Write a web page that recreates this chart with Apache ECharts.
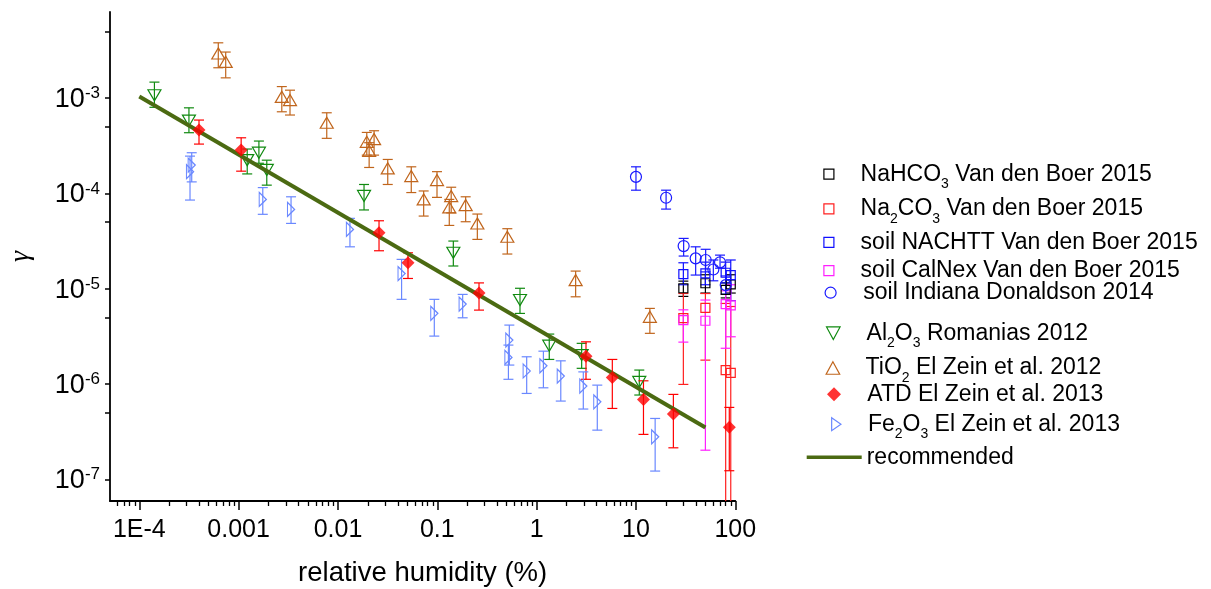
<!DOCTYPE html>
<html><head><meta charset="utf-8">
<script src="https://cdn.jsdelivr.net/npm/echarts@6/dist/echarts.min.js"></script>
<style>html,body{margin:0;padding:0;background:#fff}#c{width:1211px;height:589px}</style>
</head><body><div id="c"></div>
<script>
// ---------- data ----------
const xMajorTicks = [1e-4, 1e-3, 1e-2, 0.1, 1, 10, 100];
const xMajorLabels = ['1E-4', '0.001', '0.01', '0.1', '1', '10', '100'];
const xMinorTicks = [5e-5,6e-5,7e-5,8e-5,9e-5,2e-4,3e-4,4e-4,5e-4,6e-4,7e-4,8e-4,9e-4,2e-3,3e-3,4e-3,5e-3,6e-3,7e-3,8e-3,9e-3,
  0.02,0.03,0.04,0.05,0.06,0.07,0.08,0.09,0.2,0.3,0.4,0.5,0.6,0.7,0.8,0.9,2,3,4,5,6,7,8,9,20,30,40,50,60,70,80,90];
const yMajorTicks = [1e-7, 1e-6, 1e-5, 1e-4, 1e-3];
const yMinorTicks = [5e-7, 5e-6, 5e-5, 5e-4, 5e-3];

// NaHCO3 Van den Boer 2015
const nahco3X = [30, 50, 80, 90];
const nahco3Y = [1.01e-5, 1.14e-5, 9.7e-6, 1.11e-5];
const nahco3Hi = [1.2e-5, 1.4e-5, 1.15e-5, 1.4e-5];
const nahco3Lo = [8.3e-6, 9.0e-6, 8.0e-6, 9.0e-6];
// Na2CO3 Van den Boer 2015
const na2co3X = [30, 50, 80, 90];
const na2co3Y = [4.9e-6, 6.3e-6, 1.4e-6, 1.31e-6];
const na2co3Hi = [8.9e-6, 8.9e-6, 7.0e-6, 6.5e-6];
const na2co3Lo = [9.9e-7, 1.78e-6, 1e-8, 1e-8];
// soil NACHTT Van den Boer 2015
const nachttX = [30, 50, 80, 90];
const nachttY = [1.42e-5, 1.45e-5, 1.47e-5, 1.39e-5];
const nachttHi = [1.87e-5, 1.9e-5, 1.9e-5, 2.0e-5];
const nachttLo = [1.1e-5, 1.1e-5, 1.15e-5, 7.5e-6];
// soil CalNex Van den Boer 2015
const calnexX = [30, 50, 80, 90];
const calnexY = [4.69e-6, 4.61e-6, 6.89e-6, 6.68e-6];
const calnexHi = [6.0e-6, 7.6e-6, 9.5e-6, 1.1e-5];
const calnexLo = [2.75e-6, 2.02e-7, 2.37e-6, 3.13e-6];
// soil Indiana Donaldson 2014
const indianaX = [10.0, 20.1, 30.2, 39.9, 50.3, 60.1, 70.2, 80.1];
const indianaY = [1.49e-4, 9.0e-5, 2.80e-5, 2.08e-5, 2.0e-5, 1.59e-5, 1.89e-5, 1.09e-5];
const indianaHi = [1.90e-4, 1.08e-4, 3.37e-5, 2.75e-5, 2.59e-5, 2.0e-5, 2.25e-5, 1.36e-5];
const indianaLo = [1.08e-4, 6.84e-5, 2.20e-5, 1.39e-5, 1.50e-5, 1.21e-5, 1.64e-5, 8.77e-6];
// Al2O3 Romanias 2012
const al2o3X = [1.42e-4, 3.16e-4, 1.22e-3, 1.60e-3, 1.92e-3, 1.83e-2, 0.145, 0.68, 1.34, 2.84, 10.8];
const al2o3Y = [1.07e-3, 5.8e-4, 2.23e-4, 2.67e-4, 1.76e-4, 9.4e-5, 2.38e-5, 7.6e-6, 2.52e-6, 2.01e-6, 1.05e-6];
const al2o3Hi = [1.47e-3, 7.9e-4, 2.92e-4, 3.54e-4, 2.23e-4, 1.24e-4, 3.16e-5, 1.01e-5, 3.34e-6, 2.67e-6, 1.40e-6];
const al2o3Lo = [8.0e-4, 4.33e-4, 1.60e-4, 2.07e-4, 1.22e-4, 6.7e-5, 1.73e-5, 5.5e-6, 1.81e-6, 1.46e-6, 7.66e-7];
// TiO2 El Zein et al. 2012
const tio2X = [6.24e-4, 7.41e-4, 2.72e-3, 3.29e-3, 7.71e-3, 1.95e-2, 2.31e-2, 2.06e-2, 3.17e-2, 5.47e-2, 7.29e-2, 9.93e-2, 0.138, 0.132, 0.193, 0.253, 0.507, 2.47, 13.8];
const tio2Y = [2.94e-3, 2.40e-3, 1.03e-3, 9.53e-4, 5.51e-4, 3.48e-4, 3.71e-4, 2.80e-4, 1.83e-4, 1.52e-4, 8.65e-5, 1.38e-4, 9.38e-5, 7.13e-5, 7.54e-5, 4.84e-5, 3.51e-5, 1.23e-5, 5.07e-6];
const tio2Hi = [3.80e-3, 3.04e-3, 1.32e-3, 1.21e-3, 7.01e-4, 4.36e-4, 4.54e-4, 3.40e-4, 2.27e-4, 1.90e-4, 1.06e-4, 1.69e-4, 1.16e-4, 8.65e-5, 9.21e-5, 6.07e-5, 4.26e-5, 1.53e-5, 6.21e-6];
const tio2Lo = [2.08e-3, 1.63e-3, 7.18e-4, 6.64e-4, 3.78e-4, 2.52e-4, 2.52e-4, 1.87e-4, 1.24e-4, 1.02e-4, 5.78e-5, 9.08e-5, 6.25e-5, 4.61e-5, 5.04e-5, 3.29e-5, 2.31e-5, 8.22e-6, 3.40e-6];
// ATD El Zein et al. 2013
const atdX = [3.99e-4, 1.06e-3, 2.59e-2, 5.07e-2, 0.263, 3.14, 5.78, 11.9, 23.8, 87];
const atdY = [4.61e-4, 2.85e-4, 3.86e-5, 1.87e-5, 9.0e-6, 1.96e-6, 1.17e-6, 6.89e-7, 4.83e-7, 3.51e-7];
const atdHi = [5.88e-4, 3.83e-4, 5.16e-5, 2.38e-5, 1.15e-5, 2.77e-6, 1.81e-6, 1.08e-6, 7.78e-7, 5.68e-7];
const atdLo = [3.29e-4, 1.71e-4, 2.50e-5, 1.28e-5, 5.96e-6, 1.12e-6, 5.54e-7, 2.96e-7, 2.14e-7, 1.23e-7];
// Fe2O3 El Zein et al. 2013
const fe2o3X = [3.37e-4, 3.24e-4, 1.75e-3, 3.37e-3, 1.32e-2, 4.37e-2, 9.33e-2, 0.180, 0.531, 0.52, 0.794, 1.17, 1.75, 2.95, 4.08, 15.6];
const fe2o3Y = [1.98e-4, 1.69e-4, 8.65e-5, 6.79e-5, 4.19e-5, 1.44e-5, 5.51e-6, 6.89e-6, 2.89e-6, 1.90e-6, 1.37e-6, 1.55e-6, 1.21e-6, 9.51e-7, 6.50e-7, 2.79e-7];
const fe2o3Hi = [2.67e-4, 2.46e-4, 1.15e-4, 9.21e-5, 5.47e-5, 2.03e-5, 7.73e-6, 8.71e-6, 4.15e-6, 2.56e-6, 1.93e-6, 2.21e-6, 1.75e-6, 1.34e-6, 9.73e-7, 4.35e-7];
const fe2o3Lo = [1.32e-4, 8.51e-5, 6.03e-5, 4.84e-5, 2.75e-5, 7.73e-6, 3.18e-6, 4.95e-6, 1.58e-6, 1.12e-6, 7.96e-7, 9.12e-7, 6.62e-7, 5.46e-7, 3.28e-7, 1.22e-7];
// recommended
const recX = [1e-4, 50];
const recY = [1.04e-3, 3.5e-7];

// ---------- styling ----------
const FONT = "'Liberation Sans', Arial, sans-serif";
const SQ = 'path://M0,0L10,0L10,10L0,10Z';
const CIRC = 'path://M10,5A5,5,0,1,1,0,5A5,5,0,1,1,10,5Z';
const DOWN = 'path://M0,0L13,0L6.5,12Z';
const UP = 'path://M6.5,0L13,12L0,12Z';
const RIGHT = 'path://M0,0L10,7L0,14Z';
const DIAM = 'path://M6.5,0L13,6.5L6.5,13L0,6.5Z';

// leg: icon centre (cx, cy), text start tx, icon height h, icon aspect (w/h) ar, vertical tweak dy
const defs = [
  {name:'NaHCO3', label:'NaHCO{sub|3} Van den Boer 2015', x:nahco3X, y:nahco3Y, hi:nahco3Hi, lo:nahco3Lo, color:'#000000', sym:SQ, size:[9,9], leg:{cx:828.3, cy:172.7, tx:860, h:10, ar:1, dy:-2.5}},
  {name:'Na2CO3', label:'Na{sub|2}CO{sub|3} Van den Boer 2015', x:na2co3X, y:na2co3Y, hi:na2co3Hi, lo:na2co3Lo, color:'#ff2020', sym:SQ, size:[9,9], leg:{cx:828.3, cy:207.3, tx:860, h:10, ar:1, dy:-2.5}},
  {name:'NACHTT', label:'soil NACHTT Van den Boer 2015', x:nachttX, y:nachttY, hi:nachttHi, lo:nachttLo, color:'#1010ff', sym:SQ, size:[9,9], leg:{cx:828.3, cy:242.3, tx:860, h:10, ar:1, dy:0}},
  {name:'CalNex', label:'soil CalNex Van den Boer 2015', x:calnexX, y:calnexY, hi:calnexHi, lo:calnexLo, color:'#ff20ff', sym:SQ, size:[9,9], leg:{cx:828.3, cy:270.7, tx:860, h:10, ar:1, dy:0}},
  {name:'Indiana', label:'soil Indiana Donaldson 2014', x:indianaX, y:indianaY, hi:indianaHi, lo:indianaLo, color:'#1a1aff', sym:CIRC, size:[11,11], leg:{cx:830, cy:292.7, tx:862.7, h:11, ar:1, dy:0}},
  {name:'Al2O3', label:'Al{sub|2}O{sub|3} Romanias 2012', x:al2o3X, y:al2o3Y, hi:al2o3Hi, lo:al2o3Lo, color:'#108a10', sym:DOWN, size:[13,12], leg:{cx:832.7, cy:331.7, tx:866, h:12.5, ar:13/12, dy:-2.5}},
  {name:'TiO2', label:'TiO{sub|2} El Zein et al. 2012', x:tio2X, y:tio2Y, hi:tio2Hi, lo:tio2Lo, color:'#c0651c', sym:UP, size:[13,12], leg:{cx:832.3, cy:366.5, tx:865, h:12.5, ar:13/12, dy:-2.5}},
  {name:'ATD', label:'ATD El Zein et al. 2013', x:atdX, y:atdY, hi:atdHi, lo:atdLo, color:'#ff0000', sym:DIAM, size:[13,13], leg:{cx:834, cy:394.3, tx:867.3, h:14, ar:1, dy:0}},
  {name:'Fe2O3', label:'Fe{sub|2}O{sub|3} El Zein et al. 2013', x:fe2o3X, y:fe2o3Y, hi:fe2o3Hi, lo:fe2o3Lo, color:'#6a88ff', sym:RIGHT, size:[10,14], leg:{cx:835.7, cy:422.7, tx:867.3, h:13, ar:10/14, dy:-2.5}}
];

function errSeries(d) {
  const c = d.color;
  return {
    type: 'custom', name: d.name + '_err', coordinateSystem: 'cartesian2d', clip: true, silent: true, z: 2,
    data: d.x.map((x, i) => [x, d.lo[i], d.hi[i]]),
    encode: {x: 0, y: [1, 2]},
    renderItem(params, api) {
      const x = api.value(0);
      const a = api.coord([x, api.value(1)]);
      const b = api.coord([x, api.value(2)]);
      const w = 5;
      const st = {stroke: c, lineWidth: 1.2};
      return {type: 'group', children: [
        {type: 'line', shape: {x1: a[0], y1: a[1], x2: b[0], y2: b[1]}, style: st},
        {type: 'line', shape: {x1: a[0] - w, y1: a[1], x2: a[0] + w, y2: a[1]}, style: st},
        {type: 'line', shape: {x1: b[0] - w, y1: b[1], x2: b[0] + w, y2: b[1]}, style: st}
      ]};
    }
  };
}

const series = [];
defs.forEach(d => series.push(errSeries(d)));
defs.forEach(d => {
  if (d.name === 'ATD') return;
  series.push({
    type: 'scatter', name: d.name, z: 3,
    data: d.x.map((x, i) => [x, d.y[i]]),
    symbol: d.sym, symbolSize: d.size, symbolKeepAspect: true,
    itemStyle: {color: 'rgba(255,255,255,0)', borderColor: d.color, borderWidth: 1.2, opacity: 1},
    emphasis: {disabled: true}
  });
});
series.push({
  type: 'line', name: 'recommended', z: 4,
  data: recX.map((x, i) => [x, recY[i]]),
  symbol: 'none', showSymbol: false, lineStyle: {color: '#4b6a12', width: 4}, itemStyle: {color: '#4b6a12'},
  emphasis: {disabled: true}
});
defs.filter(d => d.name === 'ATD').forEach(d => {
  series.push({
    type: 'scatter', name: d.name, z: 5,
    data: d.x.map((x, i) => [x, d.y[i]]),
    symbol: d.sym, symbolSize: d.size, symbolKeepAspect: true,
    itemStyle: {color: d.color, borderWidth: 0},
    emphasis: {disabled: true}
  });
});

const LEG_FONT = 23;
const richSub = {sub: {fontSize: 14, fontFamily: FONT, padding: [20, 0, 0, 0], lineHeight: 6, color: '#000'}};
const legends = defs.map(d => {
  const L = d.leg;
  const W = 2 * (L.tx - 5 - L.cx);
  const iconW = L.h * L.ar;
  return {
    left: L.cx - iconW / 2, top: L.cy - 13 + L.dy, padding: 0,
    itemWidth: W, itemHeight: L.h, selectedMode: false,
    symbolKeepAspect: true,
    itemStyle: {borderWidth: 1.2},
    data: [d.name],
    formatter: () => d.label,
    textStyle: {fontSize: LEG_FONT, fontFamily: FONT, color: '#000', lineHeight: 26, rich: richSub}
  };
});
legends.push({
  left: 806.7, top: 457.3 - 13, padding: 0, itemWidth: 55, itemHeight: 3.5, selectedMode: false,
  data: [{name: 'recommended', icon: 'rect'}],
  itemStyle: {color: '#4b6a12', borderWidth: 0},
  textStyle: {fontSize: LEG_FONT, fontFamily: FONT, color: '#000', lineHeight: 26}
});

const chart = echarts.init(document.getElementById('c'));
chart.setOption({
  animation: false,
  backgroundColor: '#fff',
  grid: {left: 110, top: 12, width: 625.3, height: 489, containLabel: false, outerBoundsMode: 'none'},
  legend: legends,
  xAxis: [{
    type: 'log', logBase: 10, min: 5.07e-5, max: 100, position: 'bottom',
    name: 'relative humidity (%)', nameLocation: 'middle', nameGap: 58,
    nameTextStyle: {fontSize: 27.5, fontFamily: FONT, color: '#000'},
    axisLine: {show: true, lineStyle: {color: '#000', width: 1.8}},
    axisTick: {show: true, inside: false, length: 9, customValues: xMajorTicks, lineStyle: {color: '#000', width: 1.5}},
    axisLabel: {show: true, customValues: xMajorTicks, margin: 17, fontSize: 25, fontFamily: FONT, color: '#000',
      formatter: v => { const i = xMajorTicks.findIndex(t => Math.abs(Math.log10(t) - Math.log10(v)) < 1e-6); return i >= 0 ? xMajorLabels[i] : ''; }},
    splitLine: {show: false}, minorTick: {show: false}
  }, {
    type: 'log', logBase: 10, min: 5.07e-5, max: 100, position: 'bottom', gridIndex: 0,
    axisLine: {show: false},
    axisTick: {show: true, inside: false, length: 5, customValues: xMinorTicks, lineStyle: {color: '#000', width: 1.3}},
    axisLabel: {show: false}, splitLine: {show: false}
  }],
  yAxis: [{
    type: 'log', logBase: 10, min: 5.92e-8, max: 8e-3,
    name: 'γ', nameLocation: 'middle', nameGap: 75, nameRotate: 90,
    nameTextStyle: {fontSize: 28, fontFamily: "'Liberation Serif', 'DejaVu Serif', serif", fontStyle: 'italic', color: '#000'},
    axisLine: {show: true, lineStyle: {color: '#000', width: 1.8}},
    axisTick: {show: true, inside: false, length: 5, customValues: yMajorTicks.concat(yMinorTicks), lineStyle: {color: '#000', width: 1.5}},
    axisLabel: {show: true, customValues: yMajorTicks, margin: 10, fontSize: 27, fontFamily: FONT, color: '#000',
      formatter: v => '{main|10}{sup|' + Math.round(Math.log10(v)) + '}',
      rich: {
        main: {fontSize: 27, fontFamily: FONT, color: '#000', padding: [3, 0, 0, 0], lineHeight: 6},
        sup: {fontSize: 17, fontFamily: FONT, color: '#000', padding: [0, 0, 9, 0], lineHeight: 6}
      }},
    splitLine: {show: false}, minorTick: {show: false}
  }],
  series: series
});
</script></body></html>
